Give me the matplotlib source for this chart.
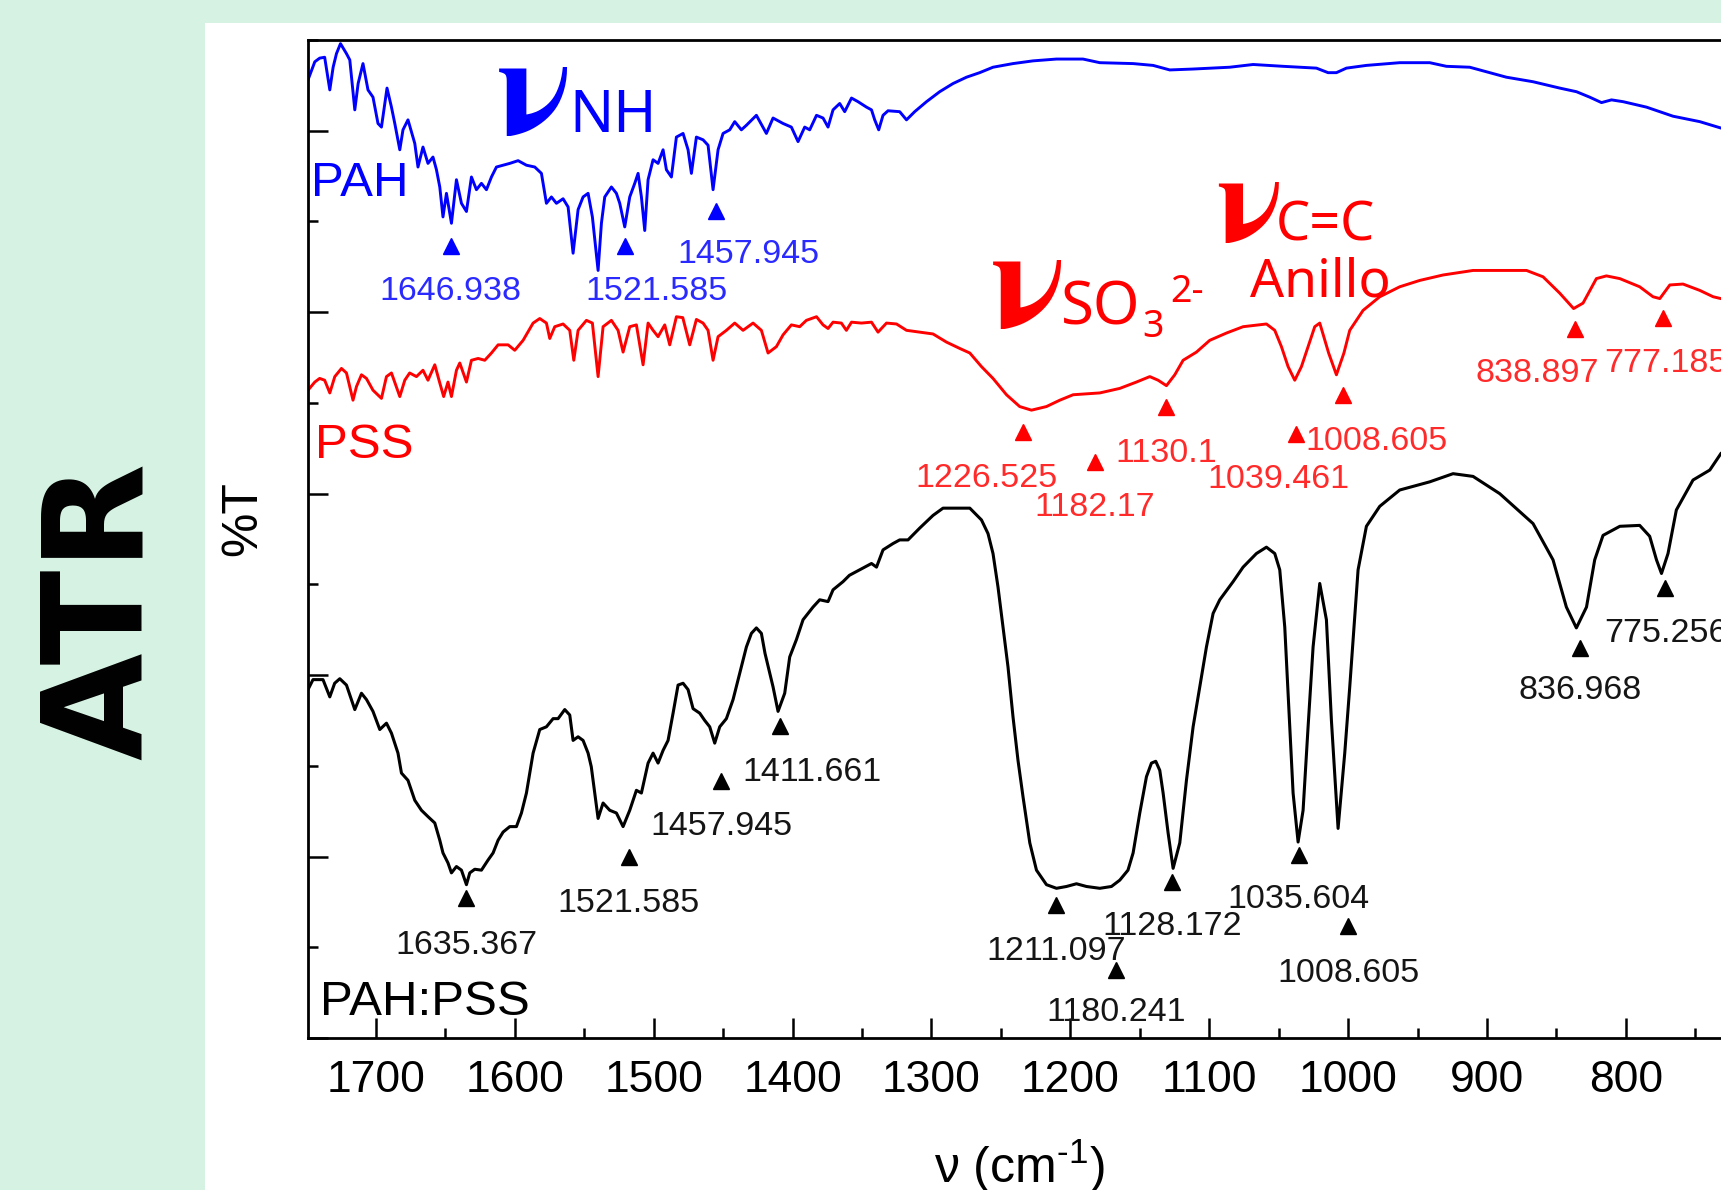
import matplotlib
matplotlib.use("Agg")
import matplotlib.pyplot as plt
from matplotlib.patches import Rectangle
from matplotlib.ticker import MultipleLocator

plt.rcParams['mathtext.fontset'] = 'custom'
plt.rcParams['mathtext.rm'] = 'Liberation Sans'
plt.rcParams['mathtext.it'] = 'Liberation Sans'

# ---- spectra (wavenumber, %T in arbitrary offset units) ----
pah_w = [1749.0, 1744.1, 1740.6, 1737.0, 1733.3, 1730.9, 1728.5, 1725.6, 1721.3, 1718.9,
         1715.3, 1712.9, 1709.4, 1705.8, 1702.2, 1698.6, 1696.1, 1692.1, 1688.9, 1686.5,
         1682.9, 1680.6, 1677.0, 1672.1, 1669.8, 1666.2, 1662.6, 1659.0, 1656.5, 1654.1,
         1651.8, 1649.3, 1645.7, 1642.1, 1638.5, 1634.9, 1631.3, 1627.7, 1624.1, 1620.5,
         1616.9, 1613.3, 1608.5, 1603.7, 1597.7, 1591.7, 1585.7, 1580.9, 1577.3, 1573.7,
         1570.1, 1565.3, 1561.7, 1558.1, 1554.5, 1550.9, 1547.3, 1544.2, 1540.1, 1537.7,
         1535.3, 1530.5, 1526.9, 1524.5, 1520.9, 1517.3, 1513.7, 1511.3, 1508.9, 1506.5,
         1504.1, 1500.5, 1496.9, 1493.3, 1490.9, 1487.3, 1483.7, 1478.9, 1475.3, 1472.9,
         1469.3, 1464.5, 1460.9, 1457.3, 1453.7, 1450.1, 1445.3, 1441.7, 1436.9, 1433.3,
         1426.1, 1418.9, 1414.1, 1406.9, 1400.9, 1396.1, 1391.3, 1387.7, 1382.8, 1378.1,
         1374.5, 1370.9, 1366.1, 1362.5, 1357.6, 1352.9, 1346.8, 1343.2, 1340.9, 1338.0,
         1334.9, 1331.3, 1322.9, 1318.0, 1312.1, 1303.6, 1294.1, 1284.5, 1274.8, 1265.3,
         1255.7, 1241.3, 1226.9, 1210.0, 1190.9, 1178.8, 1154.8, 1140.4, 1128.4, 1111.6,
         1085.2, 1068.4, 1046.8, 1022.8, 1014.4, 1008.4, 1001.2, 986.8, 962.8, 941.2,
         929.2, 912.4, 900.4, 886.0, 866.8, 847.6, 835.5, 826.0, 817.5, 810.3,
         801.9, 785.1, 766.0, 746.7, 731.6]
pah_t = [10.56, 10.76, 10.80, 10.81, 10.45, 10.70, 10.85, 10.96, 10.85, 10.78,
         10.23, 10.52, 10.74, 10.45, 10.37, 10.08, 10.04, 10.47, 10.26, 10.08,
         9.79, 10.01, 10.12, 9.86, 9.60, 9.82, 9.64, 9.71, 9.57, 9.38,
         9.05, 9.31, 8.98, 9.46, 9.20, 9.11, 9.49, 9.35, 9.42, 9.35,
         9.49, 9.60, 9.62, 9.64, 9.67, 9.62, 9.60, 9.53, 9.20, 9.27,
         9.20, 9.25, 9.16, 8.65, 9.13, 9.27, 9.31, 9.05, 8.46, 8.98,
         9.27, 9.38, 9.31, 9.20, 8.94, 9.27, 9.42, 9.53, 9.27, 8.90,
         9.46, 9.68, 9.64, 9.79, 9.57, 9.49, 9.93, 9.97, 9.79, 9.53,
         9.93, 9.90, 9.84, 9.35, 9.79, 9.97, 10.01, 10.10, 10.01, 10.06,
         10.17, 9.97, 10.14, 10.08, 10.04, 9.88, 10.04, 10.01, 10.17, 10.14,
         10.04, 10.23, 10.30, 10.21, 10.36, 10.32, 10.26, 10.23, 10.12, 10.01,
         10.17, 10.22, 10.21, 10.12, 10.21, 10.32, 10.43, 10.52, 10.59, 10.64,
         10.70, 10.74, 10.77, 10.79, 10.79, 10.75, 10.74, 10.72, 10.67, 10.68,
         10.70, 10.73, 10.71, 10.69, 10.64, 10.64, 10.69, 10.72, 10.75, 10.75,
         10.71, 10.70, 10.65, 10.59, 10.54, 10.47, 10.43, 10.37, 10.31, 10.34,
         10.32, 10.26, 10.16, 10.10, 10.03]

pss_w = [1749.0, 1744.1, 1740.6, 1737.0, 1733.3, 1729.7, 1724.9, 1721.3, 1716.6, 1714.1,
         1710.5, 1706.9, 1702.2, 1696.1, 1692.5, 1688.9, 1682.9, 1679.3, 1675.8, 1670.9,
         1666.2, 1662.6, 1657.7, 1654.1, 1651.3, 1648.2, 1645.7, 1642.1, 1639.7, 1634.9,
         1631.3, 1626.5, 1621.7, 1616.9, 1612.1, 1604.9, 1600.1, 1594.1, 1586.9, 1582.1,
         1577.3, 1574.9, 1571.3, 1565.3, 1560.5, 1557.6, 1554.5, 1548.5, 1544.2, 1540.1,
         1536.5, 1530.5, 1525.7, 1522.1, 1517.3, 1512.5, 1507.7, 1504.1, 1500.5, 1496.9,
         1492.1, 1488.5, 1483.7, 1479.1, 1474.1, 1469.3, 1464.5, 1460.9, 1457.3, 1453.7,
         1447.7, 1441.7, 1435.7, 1428.5, 1422.5, 1417.7, 1411.7, 1406.9, 1400.9, 1394.9,
         1390.1, 1382.8, 1378.1, 1374.5, 1370.9, 1364.9, 1361.3, 1357.6, 1350.5, 1343.2,
         1338.5, 1332.4, 1325.2, 1318.0, 1308.5, 1298.9, 1289.2, 1279.6, 1272.4, 1264.0,
         1255.7, 1246.0, 1236.5, 1228.0, 1217.2, 1207.6, 1198.0, 1178.8, 1164.4, 1152.4,
         1142.8, 1136.8, 1130.8, 1124.8, 1118.8, 1109.2, 1099.6, 1087.6, 1075.6, 1058.8,
         1052.8, 1048.0, 1043.2, 1038.4, 1033.6, 1028.8, 1024.0, 1020.4, 1014.0, 1008.4,
         1003.0, 998.8, 989.2, 977.2, 962.8, 948.4, 931.6, 910.0, 871.5, 859.6,
         847.6, 837.6, 830.8, 821.2, 814.0, 804.3, 790.0, 780.4, 775.5, 768.3,
         758.8, 746.7, 737.1, 731.6]
pss_t = [7.14, 7.23, 7.27, 7.25, 7.11, 7.29, 7.38, 7.33, 7.03, 7.18,
         7.31, 7.27, 7.14, 7.05, 7.29, 7.33, 7.07, 7.25, 7.33, 7.29,
         7.36, 7.25, 7.42, 7.22, 7.07, 7.23, 7.07, 7.36, 7.44, 7.23,
         7.47, 7.49, 7.47, 7.55, 7.64, 7.64, 7.58, 7.69, 7.88, 7.93,
         7.88, 7.71, 7.84, 7.87, 7.80, 7.47, 7.80, 7.91, 7.88, 7.29,
         7.84, 7.91, 7.80, 7.56, 7.84, 7.86, 7.42, 7.88, 7.80, 7.73,
         7.86, 7.64, 7.95, 7.94, 7.64, 7.92, 7.88, 7.80, 7.47, 7.73,
         7.80, 7.88, 7.80, 7.88, 7.80, 7.55, 7.62, 7.75, 7.86, 7.84,
         7.91, 7.95, 7.86, 7.82, 7.89, 7.88, 7.80, 7.89, 7.88, 7.89,
         7.78, 7.88, 7.87, 7.80, 7.78, 7.76, 7.67, 7.60, 7.55, 7.40,
         7.27, 7.09, 6.96, 6.92, 6.96, 7.03, 7.09, 7.11, 7.16, 7.23,
         7.29, 7.25, 7.19, 7.31, 7.47, 7.56, 7.69, 7.77, 7.84, 7.87,
         7.80, 7.62, 7.40, 7.25, 7.40, 7.62, 7.84, 7.88, 7.55, 7.31,
         7.55, 7.80, 8.02, 8.17, 8.28, 8.35, 8.41, 8.46, 8.46, 8.39,
         8.21, 8.04, 8.10, 8.37, 8.40, 8.37, 8.28, 8.17, 8.15, 8.30,
         8.31, 8.24, 8.17, 8.15]

mix_w = [1749.0, 1745.4, 1738.2, 1733.3, 1729.8, 1726.1, 1721.3, 1715.3, 1710.5, 1706.9,
         1702.2, 1697.3, 1692.5, 1688.9, 1684.2, 1681.7, 1677.0, 1672.1, 1667.3, 1662.6,
         1657.7, 1654.1, 1651.8, 1648.2, 1645.7, 1642.1, 1638.5, 1634.9, 1632.5, 1628.9,
         1624.1, 1619.4, 1615.7, 1612.1, 1608.5, 1603.7, 1598.9, 1595.3, 1591.7, 1586.9,
         1582.1, 1577.3, 1572.5, 1568.9, 1564.1, 1560.5, 1558.1, 1554.5, 1550.9, 1547.3,
         1545.0, 1542.5, 1540.1, 1536.5, 1531.7, 1526.9, 1522.1, 1517.3, 1512.5, 1508.9,
         1504.1, 1500.5, 1496.9, 1493.3, 1489.7, 1486.1, 1482.5, 1478.9, 1475.3, 1471.7,
         1466.9, 1463.3, 1459.7, 1456.1, 1452.5, 1447.7, 1442.9, 1438.1, 1433.3, 1429.7,
         1426.1, 1422.5, 1419.9, 1414.1, 1410.5, 1405.7, 1402.1, 1397.3, 1392.5, 1385.3,
         1380.5, 1374.5, 1370.9, 1363.7, 1359.1, 1351.7, 1343.2, 1339.6, 1334.9, 1327.7,
         1322.9, 1316.9, 1308.5, 1298.9, 1291.7, 1272.4, 1264.0, 1259.3, 1255.7, 1252.1,
         1248.5, 1244.9, 1241.3, 1237.7, 1234.1, 1229.2, 1224.4, 1217.2, 1210.0, 1202.8,
         1195.6, 1188.4, 1178.8, 1170.4, 1164.4, 1158.5, 1154.8, 1150.0, 1145.2, 1141.6,
         1138.5, 1135.6, 1133.2, 1129.6, 1126.0, 1121.2, 1116.4, 1111.6, 1106.8, 1102.0,
         1097.2, 1092.4, 1082.8, 1075.6, 1066.0, 1058.8, 1052.8, 1049.2, 1045.6, 1042.0,
         1039.6, 1036.0, 1032.4, 1028.8, 1025.2, 1020.4, 1015.6, 1012.0, 1007.2, 1002.4,
         998.8, 992.8, 986.8, 977.2, 962.8, 941.2, 924.4, 910.0, 890.8, 866.8,
         852.4, 842.8, 835.6, 828.3, 822.4, 816.4, 804.3, 790.0, 782.8, 777.9,
         774.3, 769.6, 763.6, 751.6, 739.5, 731.6]
mix_t = [3.84, 3.95, 3.95, 3.76, 3.91, 3.96, 3.89, 3.62, 3.80, 3.73,
         3.60, 3.40, 3.47, 3.36, 3.14, 2.92, 2.84, 2.62, 2.51, 2.44,
         2.37, 2.18, 2.04, 1.93, 1.82, 1.89, 1.85, 1.69, 1.82, 1.86,
         1.85, 1.96, 2.04, 2.18, 2.27, 2.33, 2.33, 2.48, 2.70, 3.14,
         3.40, 3.43, 3.52, 3.52, 3.62, 3.56, 3.28, 3.32, 3.28, 3.14,
         2.99, 2.70, 2.42, 2.59, 2.51, 2.48, 2.33, 2.51, 2.73, 2.70,
         3.03, 3.14, 3.03, 3.17, 3.28, 3.58, 3.89, 3.91, 3.84, 3.63,
         3.58, 3.50, 3.43, 3.25, 3.43, 3.52, 3.73, 4.02, 4.31, 4.46,
         4.52, 4.46, 4.24, 3.87, 3.60, 3.80, 4.20, 4.39, 4.61, 4.75,
         4.83, 4.81, 4.94, 5.03, 5.10, 5.16, 5.23, 5.19, 5.38, 5.45,
         5.49, 5.49, 5.62, 5.76, 5.84, 5.84, 5.71, 5.56, 5.34, 4.97,
         4.53, 4.09, 3.54, 3.06, 2.66, 2.15, 1.85, 1.69, 1.65, 1.67,
         1.70, 1.67, 1.65, 1.67, 1.74, 1.85, 2.04, 2.48, 2.88, 3.03,
         3.05, 2.95, 2.70, 2.26, 1.87, 2.15, 2.84, 3.43, 3.87, 4.31,
         4.68, 4.83, 5.03, 5.19, 5.34, 5.41, 5.34, 5.16, 4.53, 3.43,
         2.70, 2.16, 2.51, 3.43, 4.31, 5.01, 4.61, 3.50, 2.31, 3.14,
         3.87, 5.16, 5.64, 5.86, 6.04, 6.13, 6.22, 6.19, 6.00, 5.67,
         5.27, 4.75, 4.52, 4.75, 5.27, 5.54, 5.64, 5.65, 5.53, 5.27,
         5.12, 5.34, 5.82, 6.15, 6.26, 6.44]

# ---- picked peaks: label, marker wavenumber, marker height ----
pah_peak_lbl = ['1646.938', '1521.585', '1457.945']
pah_peak_w = [1646.2, 1520.9, 1454.9]
pah_peak_t = [8.73, 8.73, 9.12]

pss_peak_lbl = ['1226.525', '1182.17', '1130.1', '1039.461', '1008.605', '838.897', '777.185']
pss_peak_w = [1234.2, 1182.4, 1131.0, 1037.2, 1003.6, 836.8, 773.2]
pss_peak_t = [6.68, 6.35, 6.96, 6.66, 7.09, 7.81, 7.94]

mix_peak_lbl = ['1635.367', '1521.585', '1457.945', '1411.661', '1211.097', '1180.241',
                '1128.172', '1035.604', '1008.605', '836.968', '775.256']
mix_peak_w = [1634.9, 1518.0, 1451.3, 1409.3, 1210.5, 1166.8, 1126.8, 1035.5, 999.7, 833.2, 771.9]
mix_peak_t = [1.54, 2.00, 2.83, 3.44, 1.47, 0.75, 1.72, 2.02, 1.23, 4.30, 4.96]

xticks = [1700, 1600, 1500, 1400, 1300, 1200, 1100, 1000, 900, 800, 700]

# label offsets (points) relative to the triangles
pah_off = [(0, -39), (23, -39), (23, -38)]
pss_off = [(-26, -40), (0, -39), (0, -40), (-13, -39), (24, -40), (-27, -38), (2, -39)]
mix_off = [(0, -40), (0, -40), (0, -39), (23.5, -40), (0, -40), (0, -37),
           (0, -38.4), (0, -38.4), (0, -40), (0, -36.7), (1, -39)]

MINT = '#d6f2e3'
BLUE = '#0000ff'
RED = '#ff0000'
NUM = 'Liberation Sans'
MONT = 'Noto Sans'

fig = plt.figure(figsize=(17.21, 11.90), dpi=100, facecolor=MINT)
fig.patches.append(Rectangle((205 / 1721, 0), 1.0, 1 - 23 / 1190,
                             transform=fig.transFigure, facecolor='white',
                             edgecolor='none', zorder=-5))

ax = fig.add_axes([308 / 1721, 152 / 1190, 0.88675, 998 / 1190])
ax.set_zorder(2)
ax.set_facecolor('white')
ax.set_xlim(1749, 650)
ax.set_ylim(0, 11)

ax.plot(pah_w, pah_t, color=BLUE, lw=2.1)
ax.plot(pss_w, pss_t, color=RED, lw=2.1)
ax.plot(mix_w, mix_t, color='black', lw=2.2)


def mark(ws, ts, lbls, offs, color, tcolor):
    ax.plot(ws, ts, ls='none', marker='^', ms=11, color=color, mec=color)
    for w, t, s, (dx, dy) in zip(ws, ts, lbls, offs):
        ax.annotate(s, (w, t), xytext=(dx, dy), textcoords='offset points',
                    ha='center', va='baseline', fontsize=24.5, family=NUM,
                    color=tcolor)


mark(pah_peak_w, pah_peak_t, pah_peak_lbl, pah_off, BLUE, '#2a2aff')
mark(pss_peak_w, pss_peak_t, pss_peak_lbl, pss_off, RED, '#ff2a2a')
mark(mix_peak_w, mix_peak_t, mix_peak_lbl, mix_off, 'black', '#151515')

# series names
ax.text(1747.0, 9.28, 'PAH', color=BLUE, fontsize=35.5, family=NUM, va='baseline')
ax.text(1744.1, 6.39, 'PSS', color=RED, fontsize=35.5, family=NUM, va='baseline')
ax.text(1740.5, 0.254, 'PAH:PSS', color='black', fontsize=35.5, family=NUM, va='baseline')

# band assignments
nu_kw = dict(family='STIXGeneral', fontweight='bold', va='baseline', ha='left')
ax.text(1613.1, 9.96, 'ν', color=BLUE, fontsize=102, **nu_kw)
ax.text(1560.5, 9.99, 'NH', color=BLUE, fontsize=42, family=MONT, va='baseline')

ax.text(1257.3, 7.84, 'ν', color=RED, fontsize=102, **nu_kw)
ax.text(1206.9, 7.86, 'SO', color=RED, fontsize=43, family=MONT, va='baseline')
ax.text(1148.3, 7.73, '3', color=RED, fontsize=27, family=MONT, va='baseline')
ax.text(1128.4, 8.11, '2-', color=RED, fontsize=27, family=MONT, va='baseline')

ax.text(1095.3, 8.78, 'ν', color=RED, fontsize=90, **nu_kw)
ax.text(1052.1, 8.79, 'C=C', color=RED, fontsize=39, family=MONT, va='baseline')
ax.text(1070.8, 8.17, 'Anillo', color=RED, fontsize=38.5, family=MONT, va='baseline')

# axes styling
for side in ['left', 'bottom', 'top', 'right']:
    ax.spines[side].set_linewidth(2.0)
ax.set_xticks(xticks)
ax.xaxis.set_minor_locator(MultipleLocator(50))
ax.yaxis.set_major_locator(MultipleLocator(2))
ax.yaxis.set_minor_locator(MultipleLocator(1))
ax.tick_params(which='both', direction='in', top=False, right=False, width=1.8)
ax.tick_params(which='major', length=14.5)
ax.tick_params(which='minor', length=7.2)
ax.tick_params(axis='x', which='major', labelsize=32, pad=15.5)
ax.tick_params(axis='y', labelleft=False)
for lab in ax.get_xticklabels():
    lab.set_family(NUM)

fig.text(243 / 1721, 1 - 519 / 1190, '%T', rotation=90, ha='center', va='center',
         fontsize=36, family=NUM)
fig.text(1019 / 1721, 7 / 1190, 'ν (cm$^{\u20101}$)', ha='center', va='baseline',
         fontsize=36, family=NUM)
fig.text(103 / 1721, 1 - 611 / 1190, 'ATR', rotation=90, ha='center', va='center',
         fontsize=100, fontweight='bold', family='DejaVu Sans')

fig.savefig('out.png', dpi=100, facecolor=MINT)
